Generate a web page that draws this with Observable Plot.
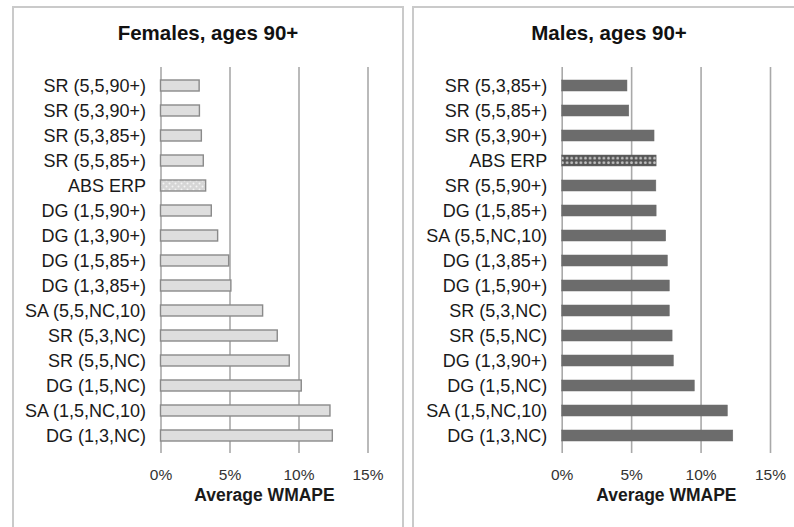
<!DOCTYPE html>
<html>
<head>
<meta charset="utf-8">
<script src="https://cdn.jsdelivr.net/npm/d3@7"></script>
<script src="https://cdn.jsdelivr.net/npm/@observablehq/plot@0.6"></script>
<style>
  html, body { margin: 0; padding: 0; background: #fff; width: 794px; height: 527px; overflow: hidden; }
  body { position: relative; font-family: "Liberation Sans", Arial, sans-serif; }
  .panel { position: absolute; top: 6px; height: 560px; border: 2px solid #cacaca; border-bottom: none; box-sizing: border-box; }
  .title { position: absolute; top: 21px; font-weight: bold; font-size: 20.5px; color: #111; text-align: center; white-space: nowrap; }
  .chart { position: absolute; top: 50px; }
</style>
</head>
<body>
<div class="panel" style="left:12px;width:392px;"></div>
<div class="panel" style="left:412px;width:400px;"></div>
<div class="title" style="left:58px;width:300px;">Females, ages 90+</div>
<div class="title" style="left:459px;width:300px;">Males, ages 90+</div>
<div class="chart" id="female" style="left:12px;"></div>
<div class="chart" id="male" style="left:413px;"></div>
<script>
const ticks = [0, 5, 10, 15];
const axisTitle = "Average WMAPE";

const femaleCats = ["SR (5,5,90+)", "SR (5,3,90+)", "SR (5,3,85+)", "SR (5,5,85+)", "ABS ERP",
  "DG (1,5,90+)", "DG (1,3,90+)", "DG (1,5,85+)", "DG (1,3,85+)", "SA (5,5,NC,10)",
  "SR (5,3,NC)", "SR (5,5,NC)", "DG (1,5,NC)", "SA (1,5,NC,10)", "DG (1,3,NC)"];
const femaleVals = [2.8, 2.82, 2.96, 3.1, 3.27, 3.68, 4.14, 4.94, 5.1, 7.4, 8.46, 9.33, 10.2, 12.28, 12.45];

const maleCats = ["SR (5,3,85+)", "SR (5,5,85+)", "SR (5,3,90+)", "ABS ERP", "SR (5,5,90+)",
  "DG (1,5,85+)", "SA (5,5,NC,10)", "DG (1,3,85+)", "DG (1,5,90+)", "SR (5,3,NC)",
  "SR (5,5,NC)", "DG (1,3,90+)", "DG (1,5,NC)", "SA (1,5,NC,10)", "DG (1,3,NC)"];
const maleVals = [4.7, 4.83, 6.65, 6.8, 6.78, 6.8, 7.49, 7.61, 7.75, 7.75, 7.95, 8.04, 9.55, 11.93, 12.32];

const special = "ABS ERP";

function makePanel(cats, vals, cfg) {
  const data = cats.map((c, i) => ({cat: c, v: vals[i]}));
  const svg = Plot.plot({
    width: cfg.width,
    height: 477,
    marginLeft: cfg.marginLeft,
    marginRight: cfg.marginRight,
    marginTop: 17,
    marginBottom: 74,
    style: {fontFamily: "'Liberation Sans', Arial, sans-serif", color: "#222", background: "transparent", overflow: "visible"},
    x: {domain: [0, 15], ticks: ticks, tickFormat: d => d + "%"},
    y: {domain: cats, paddingInner: 0.57, paddingOuter: 0.285},
    marks: [
      Plot.gridX({ticks: ticks, stroke: "#a9a9a9", strokeOpacity: 1, strokeWidth: 1.6}),
      Plot.barX(data.filter(d => d.cat !== special), {
        x: "v", y: "cat", fill: cfg.fill, stroke: cfg.stroke, strokeWidth: cfg.strokeWidth
      }),
      Plot.barX(data.filter(d => d.cat === special), {
        x: "v", y: "cat", fill: `url(#${cfg.patternId})`, stroke: cfg.stroke, strokeWidth: cfg.strokeWidth
      }),
      Plot.axisX({ticks: ticks, tickFormat: d => d + "%", tickSize: 0, tickPadding: 15, fontSize: 15.5, label: null, color: "#333"}),
      Plot.axisY({tickSize: 0, tickPadding: 15, fontSize: 18, label: null, color: "#1a1a1a"}),
      Plot.text([axisTitle], {frameAnchor: "bottom", dy: 47, fontWeight: "bold", fontSize: 17.5, fill: "#1a1a1a"})
    ]
  });
  const defs = d3.select(svg).insert("defs", ":first-child");
  cfg.pattern(defs);
  return svg;
}

document.getElementById("female").appendChild(makePanel(femaleCats, femaleVals, {
  width: 391, marginLeft: 148.5, marginRight: 35.5,
  fill: "#dedede", stroke: "#8a8a8a", strokeWidth: 1.4, patternId: "patF",
  pattern: defs => {
    const p = defs.append("pattern").attr("id", "patF").attr("patternUnits", "userSpaceOnUse")
      .attr("width", 6).attr("height", 6);
    p.append("rect").attr("width", 6).attr("height", 6).attr("fill", "#d6d6d6");
    p.append("circle").attr("cx", 1.5).attr("cy", 1.5).attr("r", 1).attr("fill", "#f4f4f4");
    p.append("circle").attr("cx", 4.5).attr("cy", 4.5).attr("r", 1).attr("fill", "#f4f4f4");
  }
}));

document.getElementById("male").appendChild(makePanel(maleCats, maleVals, {
  width: 381, marginLeft: 148.7, marginRight: 24,
  fill: "#6c6c6c", stroke: "#6c6c6c", strokeWidth: 0.5, patternId: "patM",
  pattern: defs => {
    const p = defs.append("pattern").attr("id", "patM").attr("patternUnits", "userSpaceOnUse")
      .attr("width", 4.6).attr("height", 4.6);
    p.append("rect").attr("width", 4.6).attr("height", 4.6).attr("fill", "#555555");
    p.append("circle").attr("cx", 2.3).attr("cy", 2.3).attr("r", 1.4).attr("fill", "#c4c4c4");
  }
}));
</script>
</body>
</html>
